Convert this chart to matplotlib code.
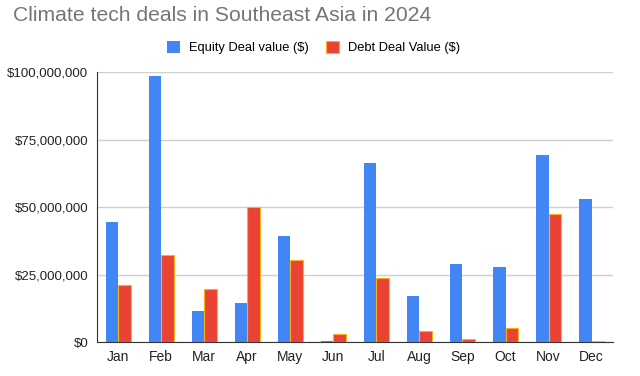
import matplotlib
matplotlib.use("Agg")
import matplotlib.pyplot as plt
import numpy as np
from matplotlib.ticker import FuncFormatter

plt.rcParams['font.family'] = ['Liberation Sans', 'DejaVu Sans']

months = ["Jan", "Feb", "Mar", "Apr", "May", "Jun", "Jul", "Aug", "Sep", "Oct", "Nov", "Dec"]
equity = [44.6, 98.5, 11.5, 14.6, 39.1, 0.4, 66.3, 16.9, 28.8, 27.9, 69.4, 52.9]  # $M
debt = [21.1, 32.3, 19.6, 50.0, 30.3, 3.1, 23.6, 4.2, 1.1, 5.1, 47.3, 0.3]  # $M
yticks = [0, 25e6, 50e6, 75e6, 100e6]

fig = plt.figure(figsize=(6.4, 3.76), dpi=100)
ax = fig.add_axes([0.151, 0.0904, 0.807, 0.718])

x = np.arange(len(months))
w = 0.29
ax.bar(x - w / 2, np.array(equity) * 1e6, width=w, color="#4285F4", label="Equity Deal value ($)", zorder=3)
ax.bar(x + w / 2, np.array(debt) * 1e6, width=w, color="#EA4335", edgecolor="#F9B21A", linewidth=0.8,
       label="Debt Deal Value ($)", zorder=3)

ax.set_ylim(0, 100e6)
ax.set_xlim(-0.5, 11.5)
ax.set_yticks(yticks)
ax.yaxis.set_major_formatter(FuncFormatter(lambda v, p: "${:,.0f}".format(v)))
ax.set_xticks(x)
ax.set_xticklabels(months)
ax.tick_params(axis='both', length=0, labelsize=9.5, colors="#222222", pad=6)
ax.tick_params(axis='x', labelsize=10)
ax.grid(axis='y', color="#d0d0d0", linewidth=1, zorder=0)
for s in ["top", "right"]:
    ax.spines[s].set_visible(False)
ax.spines["bottom"].set_color("#333333")
ax.spines["left"].set_color("#333333")
ax.spines["left"].set_linewidth(0.8)

fig.text(0.02, 0.958, "Climate tech deals in Southeast Asia in 2024", fontsize=15.2, color="#757575",
         ha="left", va="center")
fig.legend(loc="center", bbox_to_anchor=(0.49, 0.873), ncol=2, frameon=False, fontsize=9.3,
           handlelength=1.0, handleheight=1.0, columnspacing=1.3, handletextpad=0.7)

fig.savefig("out.png", dpi=100)
